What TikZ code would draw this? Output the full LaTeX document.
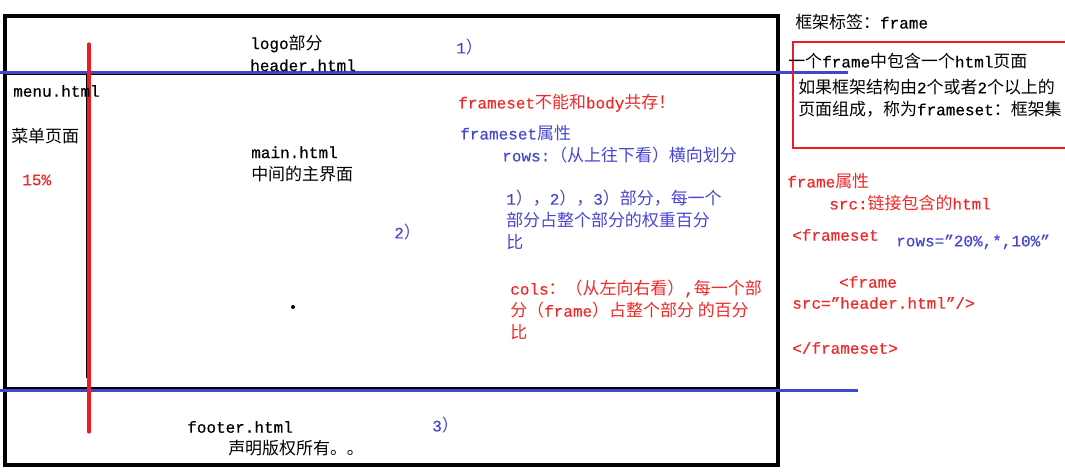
\documentclass[tikz,border=0pt]{standalone}
\usepackage{fontspec}
\setmainfont[FakeBold=0.4,AutoFakeBold=0.4]{Liberation Mono}
\newfontfamily\cjkfont[Scale=1.06]{Noto Sans CJK SC}
\newcommand{\zh}[1]{{\cjkfont #1}}
\definecolor{linered}{HTML}{ED1C24}
\definecolor{lineblue}{HTML}{3F48CC}
\definecolor{txtred}{HTML}{F22828}
\definecolor{txtblue}{HTML}{4646D2}
\begin{document}
\begin{tikzpicture}[x=0.75pt,y=-0.75pt,
	txt/.style={anchor=west, inner sep=0pt, align=left, font=\fontsize{12}{16.5}\selectfont},
	redtxt/.style={txt, text=txtred},
	bluetxt/.style={txt, text=txtblue}]
		\useasboundingbox (0,0) rectangle (1065,473);
		\clip (0,0) rectangle (1065,473);
		% page frame and its parts
		\draw[line width=2.3pt] (5,16) rectangle (778,465);
		\draw[line width=1pt] (5,74.7) -- (778,74.7);
		\draw[line width=1pt] (5,388) -- (778,388);
		\draw[line width=1.1pt] (86.5,75) -- (86.5,378);
		\draw[lineblue, line width=2.2pt] (0,72.5) -- (848,72.5);
		\draw[lineblue, line width=2.2pt] (0,390.3) -- (858,390.3);
		\draw[linered, line width=2.4pt, line cap=round] (89,44) -- (89,432);
		\fill (293,307) circle (2);
		% texts inside the page
		\node[txt] (header) at (250,53) {logo\zh{部分}\\header.html};
		\node[bluetxt] (one) at (456,47) {1\zh{）}};
		\node[txt] (menu) at (13,91) {menu.html};
		\node[txt] (menupage) at (11,136) {\zh{菜单页面}};
		\node[redtxt] (pct) at (22,180) {15\%};
		\node[txt] (main) at (251,164) {main.html\\\zh{中间的主界面}};
		\node[bluetxt] (two) at (394,232) {2\zh{）}};
		\node[redtxt] (nobody) at (458,103) {frameset\zh{不能和}body\zh{共存！}};
		\node[bluetxt] (fsattr) at (460,133) {frameset\zh{属性}};
		\node[bluetxt] (rows) at (502,155) {rows:\zh{（从上往下看）横向划分}};
		\node[bluetxt] (rowsnote) at (506,220) {1\zh{），}2\zh{），}3\zh{）部分，每一个}\\\zh{部分占整个部分的权重百分}\\\zh{比}};
		\node[redtxt] (cols) at (510,310) {cols\zh{：（从左向右看）},\zh{每一个部}\\\zh{分（}frame\zh{）占整个部分 的百分}\\\zh{比}};
		\node[bluetxt] (three) at (432,425) {3\zh{）}};
		\node[txt] (footer) at (187,427) {footer.html};
		\node[txt] (rights) at (228,448) {\zh{声明版权所有。。}};
		% notes on the right
		\node[txt] (tag) at (795,22) {\zh{框架标签：}frame};
		\draw[linered, line width=2.2pt] (793,42) rectangle (1080,148);
		\node[txt] (onepage) at (788,61) {\zh{一个}frame\zh{中包含一个}html\zh{页面}};
		\node[txt] (setnote) at (798,98) {\zh{如果框架结构由}2\zh{个或者}2\zh{个以上的}\\\zh{页面组成，称为}frameset\zh{：框架集}};
		\node[redtxt] (fattr) at (787,181) {frame\zh{属性}};
		\node[redtxt] (src) at (829,203) {src:\zh{链接包含的}html};
		\node[redtxt] (open) at (792,235) {<frameset};
		\node[bluetxt] (rowsval) at (896,242) {rows=”20\%,*,10\%”};
		\node[redtxt] (frame) at (839,282) {<frame};
		\node[redtxt] (srcval) at (792,303) {src=”header.html”/>};
		\node[redtxt] (close) at (792,348) {</frameset>};
		\end{tikzpicture}
\end{document}
